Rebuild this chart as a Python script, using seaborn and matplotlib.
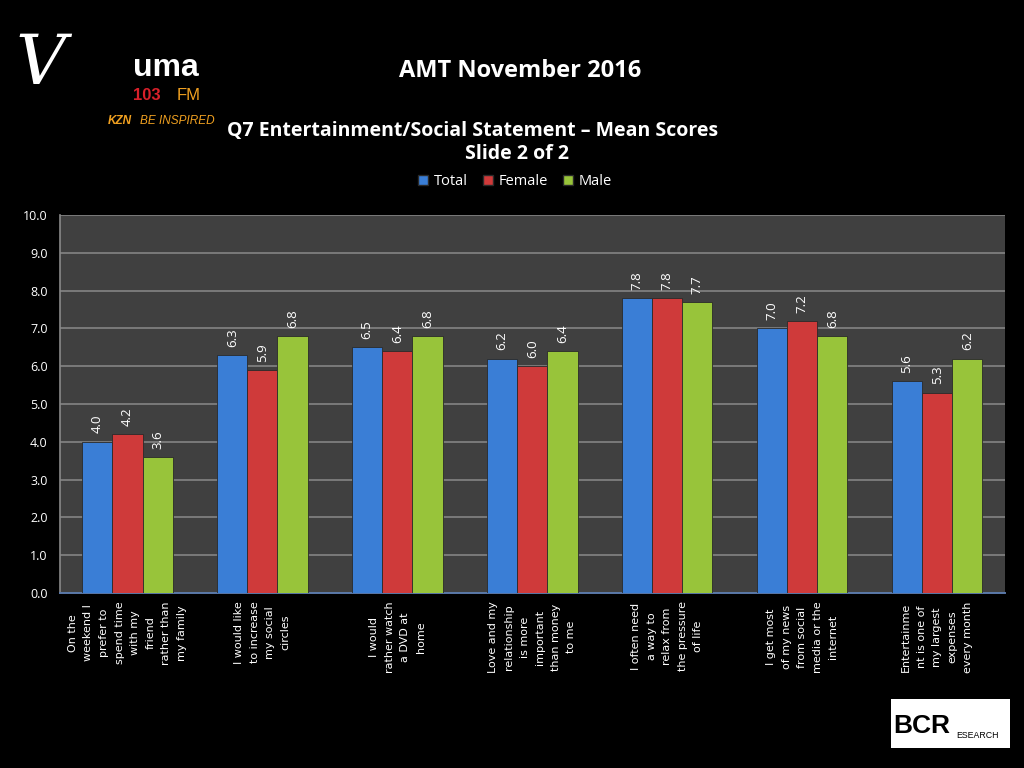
import numpy as np
import pandas as pd
import matplotlib
matplotlib.use("Agg")
import matplotlib.pyplot as plt
import seaborn as sns
from matplotlib.patches import Rectangle

# chart data
statements = [
    "On the\nweekend I\nprefer to\nspend time\nwith my\nfriend\nrather than\nmy family",
    "I would like\nto increase\nmy social\ncircles",
    "I would\nrather watch\na DVD at\nhome",
    "Love and my\nrelationship\nis more\nimportant\nthan money\nto me",
    "I often need\na way to\nrelax from\nthe pressure\nof life",
    "I get most\nof my news\nfrom social\nmedia or the\ninternet",
    "Entertainme\nnt is one of\nmy largest\nexpenses\nevery month",
]
groups = ["Total", "Female", "Male"]
total = [4.0, 6.3, 6.5, 6.2, 7.8, 7.0, 5.6]
female = [4.2, 5.9, 6.4, 6.0, 7.8, 7.2, 5.3]
male = [3.6, 6.8, 6.8, 6.4, 7.7, 6.8, 6.2]
y_ticks = [0, 1, 2, 3, 4, 5, 6, 7, 8, 9, 10]

colors = ["#3a7ed6", "#cf3a3a", "#98c43a"]

# long format for seaborn
df = pd.DataFrame({
    "statement": statements * 3,
    "group": [g for g in groups for _ in statements],
    "score": total + female + male,
})

sns.set_style("dark")
plt.rcParams["font.family"] = ["Open Sans", "DejaVu Sans"]

fig = plt.figure(figsize=(10.24, 7.68), dpi=100, facecolor="black")
ax = fig.add_axes([0.0586, 0.228, 0.9225, 0.492])
ax.set_facecolor("#404040")

sns.barplot(data=df, x="statement", y="score", hue="group", palette=colors,
            saturation=1, width=0.67, gap=0.0, ax=ax, legend=False,
            edgecolor="#2a2a2a", linewidth=0.6, zorder=3)

for cont in ax.containers:
    ax.bar_label(cont, fmt="%.1f", rotation=90, padding=6, color="white",
                 fontsize=9.5)

ax.set_ylim(0, 10)
ax.set_yticks(y_ticks)
ax.set_yticklabels([f"{v:.1f}" for v in y_ticks], color="white", fontsize=9)
ax.grid(axis="y", color="#7a7a7a", linewidth=1.4, zorder=0)
ax.grid(axis="x", visible=False)
ax.set_axisbelow(True)
ax.set_xlabel("")
ax.set_ylabel("")

ax.set_xticks(range(len(statements)))
ax.set_xticklabels(statements, rotation=90, color="white", fontsize=8,
                   family="DejaVu Sans", ha="center", va="top",
                   multialignment="center", linespacing=1.7)
ax.tick_params(axis="x", length=0, pad=6)
ax.set_xticks(np.arange(-0.5, len(statements), 1), minor=True)
ax.tick_params(axis="x", which="minor", length=5, color="#5a78a8", width=1)
ax.tick_params(axis="y", length=5, color="#7a7a7a", pad=4)
ax.set_xlim(-0.5, len(statements) - 0.5)

for side in ["top", "right"]:
    ax.spines[side].set_visible(False)
ax.spines["left"].set_color("#8a8a8a")
ax.spines["left"].set_linewidth(1.2)
ax.spines["bottom"].set_color("#5a78a8")
ax.spines["bottom"].set_linewidth(1.4)

# titles
fig.text(0.508, 0.908, "AMT November 2016", color="white", fontsize=17,
         fontweight="bold", ha="center", va="center")
fig.text(0.461, 0.83, "Q7 Entertainment/Social Statement \u2013 Mean Scores",
         color="white", fontsize=14, fontweight="bold", ha="center", va="center")
fig.text(0.505, 0.799, "Slide 2 of 2", color="white", fontsize=14,
         fontweight="bold", ha="center", va="center")

# legend
handles = [Rectangle((0, 0), 1, 1, facecolor=c, edgecolor="#2a2a2a") for c in colors]
leg = fig.legend(handles, groups, loc="center", bbox_to_anchor=(0.503, 0.764),
                 ncol=3, frameon=False, handlelength=0.7, handleheight=0.7,
                 handletextpad=0.4, columnspacing=1.0,
                 prop={"family": "Open Sans", "size": 10.5})
for t in leg.get_texts():
    t.set_color("white")

# Vuma logo
fig.text(0.015, 0.915, "V", color="white", fontsize=50, fontstyle="italic",
         family="DejaVu Serif", ha="left", va="center")
fig.text(0.13, 0.912, "uma", color="white", fontsize=23, fontweight="bold",
         ha="left", va="center", family="Liberation Sans")
fig.text(0.13, 0.876, "103", color="#d8202a", fontsize=12, fontweight="bold",
         ha="left", va="center", family="Liberation Sans")
fig.text(0.172, 0.876, "FM", color="#f0a020", fontsize=12,
         ha="left", va="center", family="Liberation Sans")
fig.text(0.105, 0.843, "KZN", color="#f0a020", fontsize=8.5, fontweight="bold",
         fontstyle="italic", ha="left", va="center", family="Liberation Sans")
fig.text(0.137, 0.843, "BE INSPIRED", color="#f0a020", fontsize=8.5,
         fontstyle="italic", ha="left", va="center", family="Liberation Sans")

# BCR Research logo
fig.patches.append(Rectangle((0.870, 0.026), 0.116, 0.064, transform=fig.transFigure,
                             facecolor="white", edgecolor="none"))
fig.text(0.872, 0.055, "BCR", color="black", fontsize=19, fontweight="bold",
         ha="left", va="center", family="Liberation Sans")
fig.text(0.934, 0.042, "ESEARCH", color="black", fontsize=6.3,
         ha="left", va="center", family="Liberation Sans")

fig.savefig("out.png", dpi=100, facecolor="black")
